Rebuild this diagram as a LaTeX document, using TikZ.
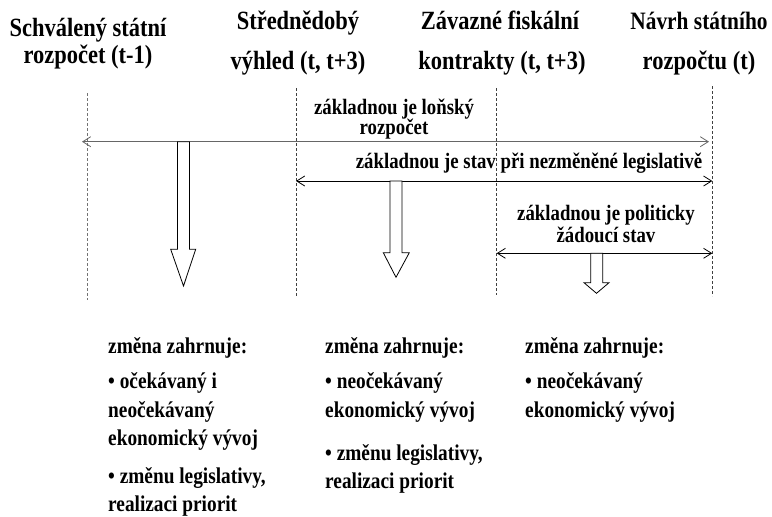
\documentclass[tikz,border=0pt]{standalone}
\usepackage{fontspec}
\setmainfont{Liberation Serif}
\newfontfamily\tallfont[FakeStretch=0.855]{Liberation Serif}
\usetikzlibrary{arrows.meta}
\tikzset{
  x=1pt, y=-1pt,
  title/.style={font=\tallfont\fontsize{26.3}{28}\selectfont\bfseries, anchor=base, inner sep=0pt},
  lab/.style={font=\tallfont\fontsize{22}{24}\selectfont\bfseries, anchor=base, inner sep=0pt},
  body/.style={font=\tallfont\fontsize{22.6}{24}\selectfont\bfseries, anchor=base west, inner sep=0pt},
  guide/.style={dashed, dash pattern=on 3pt off 2pt, line width=0.8pt, black!75},
  span/.style={{Straight Barb[length=8pt,width=10pt,line width=0.8pt]}-{Straight Barb[length=8pt,width=10pt,line width=0.8pt]}, line width=1pt},
  blockarrow/.style={draw=black, fill=white, line width=0.8pt, line join=miter}
}
\begin{document}
\begin{tikzpicture}
\useasboundingbox (0,0) rectangle (772,517);
% titles
\node[title] (t1a) at (88,36) {Schválený státní};
\node[title] (t1b) at (88,63) {rozpočet (t-1)};
\node[title] (t2a) at (298,29) {Střednědobý};
\node[title] (t2b) at (298,69) {výhled (t, t+3)};
\node[title] (t3a) at (500,29) {Závazné fiskální};
\node[title] (t3b) at (502,69) {kontrakty (t, t+3)};
\node[title, font=\tallfont\fontsize{25}{28}\selectfont\bfseries] (t4a) at (699,29) {Návrh státního};
\node[title] (t4b) at (699,69) {rozpočtu (t)};
% guide lines
\coordinate (g1t) at (87.7,93);  \coordinate (g1b) at (87.7,300);
\coordinate (g2t) at (296,88);   \coordinate (g2b) at (296,296);
\coordinate (g3t) at (496.7,88); \coordinate (g3b) at (496.7,295);
\coordinate (g4t) at (712.3,86); \coordinate (g4b) at (712.3,296);
\draw[guide, black!55] (g1t) -- (g1b);
\draw[guide] (g2t) -- (g2b);
\draw[guide] (g3t) -- (g3b);
\draw[guide] (g4t) -- (g4b);
% span arrows
\coordinate (a1l) at (82,141.7); \coordinate (a1r) at (709,141.7);
\coordinate (a2l) at (296,181);  \coordinate (a2r) at (712.3,181);
\coordinate (a3l) at (496.7,253.3); \coordinate (a3r) at (712.3,253.3);
\draw[span, black!60] (a1l) -- (a1r);
\draw[span] (a2l) -- (a2r);
\draw[span] (a3l) -- (a3r);
% labels
\node[lab] (l1a) at (394,114) {základnou je loňský};
\node[lab] (l1b) at (394,134.5) {rozpočet};
\node[lab] (l2) at (529,168) {základnou je stav při nezměněné legislativě};
\node[lab] (l3a) at (606,220.5) {základnou je politicky};
\node[lab] (l3b) at (606,242) {žádoucí stav};
% block arrows
\draw[blockarrow] (177.5,141.7) -- (177.5,249.3) -- (170.7,249.3) -- (183.5,286) -- (195.7,249.3) -- (189.5,249.3) -- (189.5,141.7) -- cycle;
\draw[blockarrow] (390,181) -- (390,252.7) -- (383.3,252.7) -- (396,277.3) -- (409.3,252.7) -- (402,252.7) -- (402,181) -- cycle;
\draw[blockarrow] (590.7,253.3) -- (590.7,282.7) -- (584,282.7) -- (596.5,293.3) -- (609,282.7) -- (602.7,282.7) -- (602.7,253.3) -- cycle;
% column 1
\node[body] (c1h) at (108,353) {změna zahrnuje:};
\node[body] (c1a) at (108,388) {• očekávaný i};
\node[body] (c1b) at (108,417) {neočekávaný};
\node[body] (c1c) at (108,445) {ekonomický vývoj};
\node[body] (c1d) at (108,483) {• změnu legislativy,};
\node[body] (c1e) at (108,511) {realizaci priorit};
% column 2
\node[body] (c2h) at (325,353) {změna zahrnuje:};
\node[body] (c2a) at (325,388) {• neočekávaný};
\node[body] (c2b) at (325,417) {ekonomický vývoj};
\node[body] (c2c) at (325,460) {• změnu legislativy,};
\node[body] (c2d) at (325,488) {realizaci priorit};
% column 3
\node[body] (c3h) at (525,353) {změna zahrnuje:};
\node[body] (c3a) at (525,388) {• neočekávaný};
\node[body] (c3b) at (525,417) {ekonomický vývoj};
\end{tikzpicture}
\end{document}
